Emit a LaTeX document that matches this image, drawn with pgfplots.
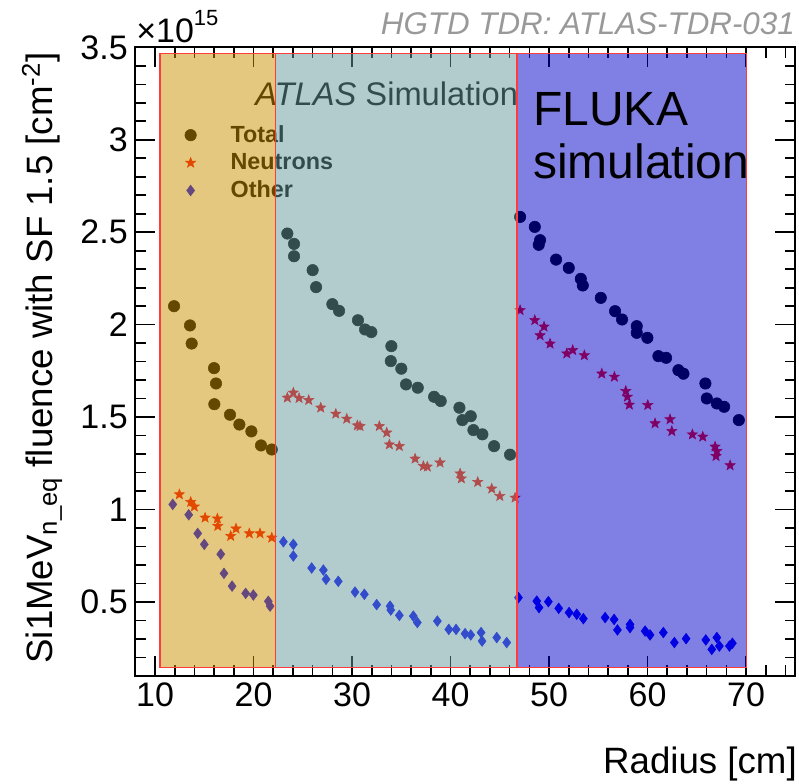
\documentclass[border=0pt]{standalone}
\usepackage{pgfplots}
\usepackage{pgfplotstable}
\pgfplotsset{compat=1.18}
\usepackage{fontspec}
\setmainfont{Liberation Sans}
\usetikzlibrary{plotmarks}

\definecolor{tintA}{RGB}{201,145,0}
\definecolor{tintB}{RGB}{101,153,155}
\definecolor{tintC}{RGB}{1,1,201}
\definecolor{boxred}{RGB}{255,60,60}
\definecolor{hgtdgray}{RGB}{153,153,153}

\pgfdeclareplotmark{fstar}{%
  \pgfpathmoveto{\pgfpointpolar{90}{\pgfplotmarksize}}%
  \pgfpathlineto{\pgfpointpolar{126}{0.42\pgfplotmarksize}}%
  \pgfpathlineto{\pgfpointpolar{162}{\pgfplotmarksize}}%
  \pgfpathlineto{\pgfpointpolar{198}{0.42\pgfplotmarksize}}%
  \pgfpathlineto{\pgfpointpolar{234}{\pgfplotmarksize}}%
  \pgfpathlineto{\pgfpointpolar{270}{0.42\pgfplotmarksize}}%
  \pgfpathlineto{\pgfpointpolar{306}{\pgfplotmarksize}}%
  \pgfpathlineto{\pgfpointpolar{342}{0.42\pgfplotmarksize}}%
  \pgfpathlineto{\pgfpointpolar{18}{\pgfplotmarksize}}%
  \pgfpathlineto{\pgfpointpolar{54}{0.42\pgfplotmarksize}}%
  \pgfpathclose
  \pgfusepathqfillstroke
}

\pgfplotsset{
  layers/tintlayers/.define layer set={
    axis background,axis grid,axis ticks,axis lines,axis tick labels,main,axis descriptions,axis foreground,tint,top
  }{
    grid style={/pgfplots/on layer=axis grid},
    tick style={/pgfplots/on layer=axis ticks},
    axis line style={/pgfplots/on layer=axis lines},
    label style={/pgfplots/on layer=axis descriptions},
    legend style={/pgfplots/on layer=axis descriptions},
    title style={/pgfplots/on layer=axis descriptions},
    colorbar style={/pgfplots/on layer=axis descriptions},
    ticklabel style={/pgfplots/on layer=axis tick labels},
    axis background@ style={/pgfplots/on layer=axis background},
    3d box foreground style={/pgfplots/on layer=axis foreground},
  },
  mylegimg/.style={legend image code/.code={%
    \path[draw=none,fill=none] (0pt,0pt) -- (38pt,0pt);
    \draw[mark repeat=2,mark phase=2,##1,only marks] plot coordinates {(0pt,0pt) (10pt,0pt) (20pt,0pt)};}},
}

\pgfplotstableread{
x y
11.93 2.100
13.55 1.996
13.72 1.898
15.99 1.765
16.19 1.682
16.02 1.570
17.61 1.513
18.56 1.460
19.78 1.423
20.76 1.347
21.85 1.325
23.43 2.493
24.11 2.437
24.11 2.370
26.00 2.295
26.35 2.203
28.00 2.111
28.68 2.075
30.60 2.024
31.32 1.974
31.96 1.960
33.99 1.884
33.93 1.803
35.00 1.762
35.48 1.677
36.67 1.659
38.33 1.610
39.00 1.587
40.90 1.551
42.05 1.505
41.20 1.484
42.32 1.430
43.23 1.407
44.42 1.343
46.04 1.297
47.06 2.583
48.55 2.529
49.09 2.457
48.95 2.432
50.71 2.352
52.00 2.307
53.22 2.248
53.42 2.212
55.25 2.145
56.70 2.073
57.41 2.028
58.90 1.992
58.90 1.956
59.98 1.929
61.10 1.830
61.88 1.821
63.13 1.754
63.64 1.735
65.87 1.682
66.01 1.601
67.03 1.574
67.77 1.556
69.26 1.484
}\totaltab

\pgfplotstableread{
x y
12.47 1.082
13.62 1.041
13.99 1.016
15.08 0.956
16.33 0.951
16.37 0.911
17.68 0.857
18.22 0.897
19.57 0.871
20.66 0.871
21.85 0.848
23.43 1.605
24.04 1.632
24.62 1.603
25.60 1.592
26.82 1.551
28.35 1.518
29.46 1.491
30.54 1.455
30.81 1.451
32.77 1.451
33.52 1.416
33.79 1.352
34.80 1.343
36.40 1.275
37.24 1.235
37.64 1.232
38.93 1.254
40.97 1.195
41.10 1.168
42.76 1.149
44.18 1.113
45.00 1.073
46.55 1.064
47.06 2.078
48.55 2.024
49.49 1.989
49.09 1.942
50.10 1.897
51.80 1.844
52.40 1.862
53.58 1.834
55.35 1.735
56.63 1.718
57.79 1.641
57.95 1.610
58.15 1.567
60.02 1.565
60.76 1.466
62.28 1.488
62.46 1.424
64.55 1.406
65.60 1.394
66.85 1.340
67.03 1.316
66.95 1.289
68.38 1.239
}\neutrontab

\pgfplotstableread{
x y
11.80 1.028
13.42 0.972
14.33 0.871
15.00 0.812
16.67 0.759
17.00 0.655
17.82 0.586
19.20 0.547
19.98 0.538
21.50 0.504
21.68 0.478
23.03 0.826
24.04 0.812
24.04 0.749
25.90 0.684
27.09 0.673
27.36 0.623
28.60 0.612
30.30 0.554
31.25 0.542
32.50 0.486
33.86 0.478
33.93 0.457
34.80 0.428
36.22 0.424
36.63 0.389
38.66 0.397
39.82 0.352
40.56 0.352
41.47 0.329
42.05 0.322
43.10 0.335
43.20 0.289
44.69 0.308
45.70 0.281
46.89 0.524
48.75 0.505
48.98 0.470
49.93 0.502
50.98 0.466
52.03 0.443
52.81 0.434
53.48 0.410
55.69 0.416
56.60 0.406
56.94 0.349
58.22 0.379
58.22 0.362
59.75 0.343
60.25 0.322
61.60 0.335
62.72 0.281
63.91 0.302
65.91 0.295
66.52 0.244
67.03 0.308
67.29 0.262
68.31 0.262
68.61 0.277
}\othertab

\begin{document}
\begin{tikzpicture}
\path (0,0) rectangle (599.25pt,587.25pt);
\begin{axis}[
  set layers=tintlayers,
  at={(101.5pt,80.25pt)}, anchor=south west,
  scale only axis, width=495pt, height=471.5pt,
  xmin=8, xmax=75, ymin=0.1, ymax=3.5,
  xtick={10,20,...,70}, minor xtick={8,10,...,74},
  ytick={0.5,1,...,3.5}, minor ytick={0.1,0.2,...,3.5},
  tick align=inside,
  major tick length=15pt, minor tick length=8pt,
  every tick/.append style={black, line width=1.2pt},
  axis line style={line width=1.5pt},
  /pgf/number format/assume math mode=true,
  tick label style={font=\fontsize{25.5}{28}\selectfont},
  xticklabel style={inner sep=0pt, yshift=-5pt},
  yticklabel style={inner sep=0pt, xshift=-5.5pt},
  legend cell align=left,
  legend style={at={(rel axis cs:0.0632,0.880)}, anchor=north west, draw=none, fill=none,
    inner sep=0pt, row sep=2.9pt, nodes={inner sep=2pt},
    font=\fontsize{17.5}{20}\selectfont\bfseries},
]
\addplot[only marks, mark=*, mark size=4.3pt, black, mylegimg] table {\totaltab};
\addlegendentry{Total}
\addplot[only marks, mark=fstar, mark size=4pt, red, mylegimg] table {\neutrontab};
\addlegendentry{Neutrons}
\addplot[only marks, mark=diamond*, mark size=4pt, blue, mylegimg] table {\othertab};
\addlegendentry{Other}

\node[anchor=base west, inner sep=0pt, font=\fontsize{24.5}{28}\selectfont]
  at (rel axis cs:0.1814,0.9082) {\textit{ATLAS} Simulation};

\begin{pgfonlayer}{tint}
\fill[tintA, fill opacity=0.5] (axis cs:10.5,0.147) rectangle (axis cs:22.2,3.466);
\fill[tintB, fill opacity=0.5] (axis cs:22.2,0.147) rectangle (axis cs:46.75,3.466);
\fill[tintC, fill opacity=0.5] (axis cs:46.75,0.147) rectangle (axis cs:70.05,3.466);
\end{pgfonlayer}

\begin{pgfonlayer}{top}
\draw[boxred, line width=1pt] (axis cs:10.5,0.147) rectangle (axis cs:70.05,3.466);
\draw[boxred, line width=1pt] (axis cs:22.2,0.147) -- (axis cs:22.2,3.466);
\draw[boxred, line width=1pt] (axis cs:46.75,0.147) -- (axis cs:46.75,3.466);
\node[anchor=base west, inner sep=0pt, font=\fontsize{36}{40}\selectfont] at (rel axis cs:0.6026,0.8764) {FLUKA};
\node[anchor=base west, inner sep=0pt, font=\fontsize{36}{40}\selectfont] at (rel axis cs:0.6026,0.7921) {simulation};
\end{pgfonlayer}
\end{axis}

\node[anchor=base west, inner sep=0pt] at (102pt,555pt)
  {\fontsize{25.5}{28}\selectfont ×10\raisebox{12.75pt}{\fontsize{16.5}{18}\selectfont 15}};
\node[anchor=base east, inner sep=0pt, font=\fontsize{23.5}{26}\selectfont\itshape, text=hgtdgray]
  at (596.25pt,561pt) {HGTD TDR: ATLAS-TDR-031};
\node[anchor=base east, inner sep=0pt, font=\fontsize{27.5}{30}\selectfont] at (597.75pt,7.5pt) {Radius [cm]};
\node[rotate=90, anchor=base, inner sep=0pt, font=\fontsize{27.5}{30}\selectfont] at (39pt,318.75pt)
  {Si1MeV\textsubscript{n\_eq} fluence with SF 1.5 [cm\textsuperscript{-2}]};
\end{tikzpicture}
\end{document}
